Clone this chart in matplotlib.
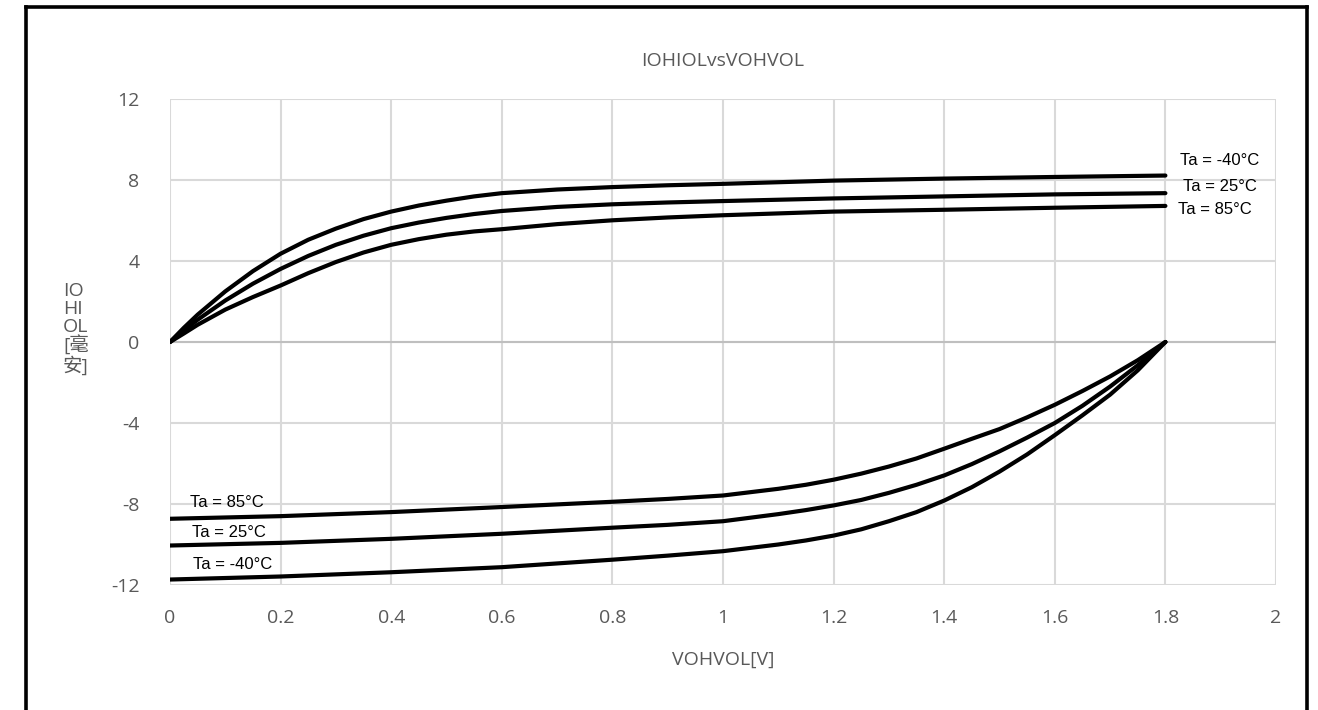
"""
IOH/IOL vs VOH/VOL output characteristic chart.
"""

import matplotlib

matplotlib.use("Agg")
import matplotlib.pyplot as plt
from matplotlib.lines import Line2D

# Output-high current (positive) vs voltage, per temperature
voh_x = [0, 0.025, 0.05, 0.1, 0.15, 0.2, 0.25, 0.3, 0.35, 0.4, 0.45, 0.5, 0.55, 0.6,
         0.7, 0.8, 0.9, 1.0, 1.2, 1.4, 1.6, 1.8]
ioh_m40 = [0, 0.7, 1.35, 2.5, 3.5, 4.36, 5.05, 5.6, 6.07, 6.44, 6.74, 6.98, 7.19, 7.35,
           7.53, 7.65, 7.74, 7.81, 7.97, 8.07, 8.15, 8.22]
ioh_25 = [0, 0.56, 1.1, 2.05, 2.88, 3.61, 4.25, 4.8, 5.25, 5.62, 5.9, 6.13, 6.32, 6.47,
          6.67, 6.8, 6.89, 6.96, 7.09, 7.19, 7.29, 7.35]
ioh_85 = [0, 0.42, 0.85, 1.6, 2.22, 2.79, 3.4, 3.95, 4.42, 4.8, 5.08, 5.3, 5.46, 5.57,
          5.82, 6.01, 6.15, 6.26, 6.44, 6.53, 6.63, 6.72]

# Output-low current (negative) vs voltage, per temperature
vol_x = [0, 0.2, 0.4, 0.6, 0.8, 0.9, 1.0, 1.1, 1.15, 1.2, 1.25, 1.3, 1.35, 1.4, 1.45,
         1.5, 1.55, 1.6, 1.65, 1.7, 1.75, 1.8]
iol_85 = [-8.73, -8.6, -8.4, -8.15, -7.89, -7.75, -7.58, -7.25, -7.05, -6.8, -6.5, -6.15,
          -5.75, -5.27, -4.78, -4.3, -3.72, -3.1, -2.42, -1.7, -0.9, 0]
iol_25 = [-10.05, -9.92, -9.72, -9.47, -9.17, -9.03, -8.85, -8.5, -8.3, -8.07, -7.8, -7.45,
          -7.05, -6.59, -6.03, -5.4, -4.72, -4.0, -3.15, -2.2, -1.15, 0]
iol_m40 = [-11.73, -11.58, -11.37, -11.12, -10.75, -10.55, -10.33, -10.0, -9.8, -9.56, -9.25,
           -8.85, -8.4, -7.83, -7.17, -6.4, -5.55, -4.6, -3.62, -2.6, -1.4, 0]

x_ticks = [0, 0.2, 0.4, 0.6, 0.8, 1.0, 1.2, 1.4, 1.6, 1.8, 2.0]
x_tick_labels = ["0", "0.2", "0.4", "0.6", "0.8", "1", "1.2", "1.4", "1.6", "1.8", "2"]
y_ticks = [-12, -8, -4, 0, 4, 8, 12]

right_labels = ["Ta = -40°C", "Ta = 25°C", "Ta = 85°C"]
left_labels = ["Ta = 85°C", "Ta = 25°C", "Ta = -40°C"]

W, H = 1318, 710
GRAY = "#595959"
UI_FONT = ["Open Sans", "Noto Sans CJK SC", "DejaVu Sans"]

plt.rcParams["axes.unicode_minus"] = False

fig = plt.figure(figsize=(W / 100, H / 100), dpi=100)
ax = fig.add_axes([170 / W, 1 - 585 / H, (1276 - 170) / W, (585 - 99) / H])

ax.set_xlim(0, 2)
ax.set_ylim(-12, 12)
ax.set_xticks(x_ticks)
ax.set_xticklabels(x_tick_labels)
ax.set_yticks(y_ticks)
ax.tick_params(length=0, labelsize=14, colors=GRAY, pad=17)
ax.tick_params(axis="y", pad=22)
for lbl in ax.get_xticklabels() + ax.get_yticklabels():
    lbl.set_family(UI_FONT)

ax.grid(True, color="#d9d9d9", linewidth=1.5)
ax.set_axisbelow(True)
for side in ax.spines.values():
    side.set_visible(False)
ax.axhline(0, color="#bfbfbf", linewidth=1.5, zorder=1)

# curves
style = dict(color="black", linewidth=3.0, solid_capstyle="round",
             solid_joinstyle="round", zorder=3)
for ys in (ioh_m40, ioh_25, ioh_85):
    ax.plot(voh_x, ys, **style)
for ys in (iol_85, iol_25, iol_m40):
    ax.plot(vol_x, ys, **style)

# temperature labels
ann = dict(fontsize=12, family="Liberation Sans", color="black", va="center",
           ha="left", zorder=4)
for txt, (x, y) in zip(right_labels, [(1.826, 8.96), (1.832, 7.68), (1.823, 6.54)]):
    ax.text(x, y, txt, **ann)
for txt, (x, y) in zip(left_labels, [(0.036, -7.93), (0.04, -9.41), (0.042, -10.99)]):
    ax.text(x, y, txt, **ann)

# titles
fig.text(723 / W, 1 - 61 / H, "IOHIOLvsVOHVOL", ha="center", va="center",
         fontsize=14, color=GRAY, family=UI_FONT)
fig.text(723 / W, 1 - 660 / H, "VOHVOL[V]", ha="center", va="center",
         fontsize=14, color=GRAY, family=UI_FONT)
fig.text(63 / W, 1 - 329 / H, "IO\nHI\nOL\n[毫\n安]", ha="left", va="center",
         fontsize=14, color=GRAY, family=UI_FONT, linespacing=1.0)

# outer frame (open at the bottom)
frame = dict(color="black", linewidth=2.6, transform=fig.transFigure)
fig.add_artist(Line2D([26 / W, 26 / W], [0, 1 - 7 / H], **frame))
fig.add_artist(Line2D([26 / W, 1307 / W], [1 - 7 / H, 1 - 7 / H], **frame))
fig.add_artist(Line2D([1307 / W, 1307 / W], [0, 1 - 7 / H], **frame))

fig.savefig("out.png", dpi=100)
